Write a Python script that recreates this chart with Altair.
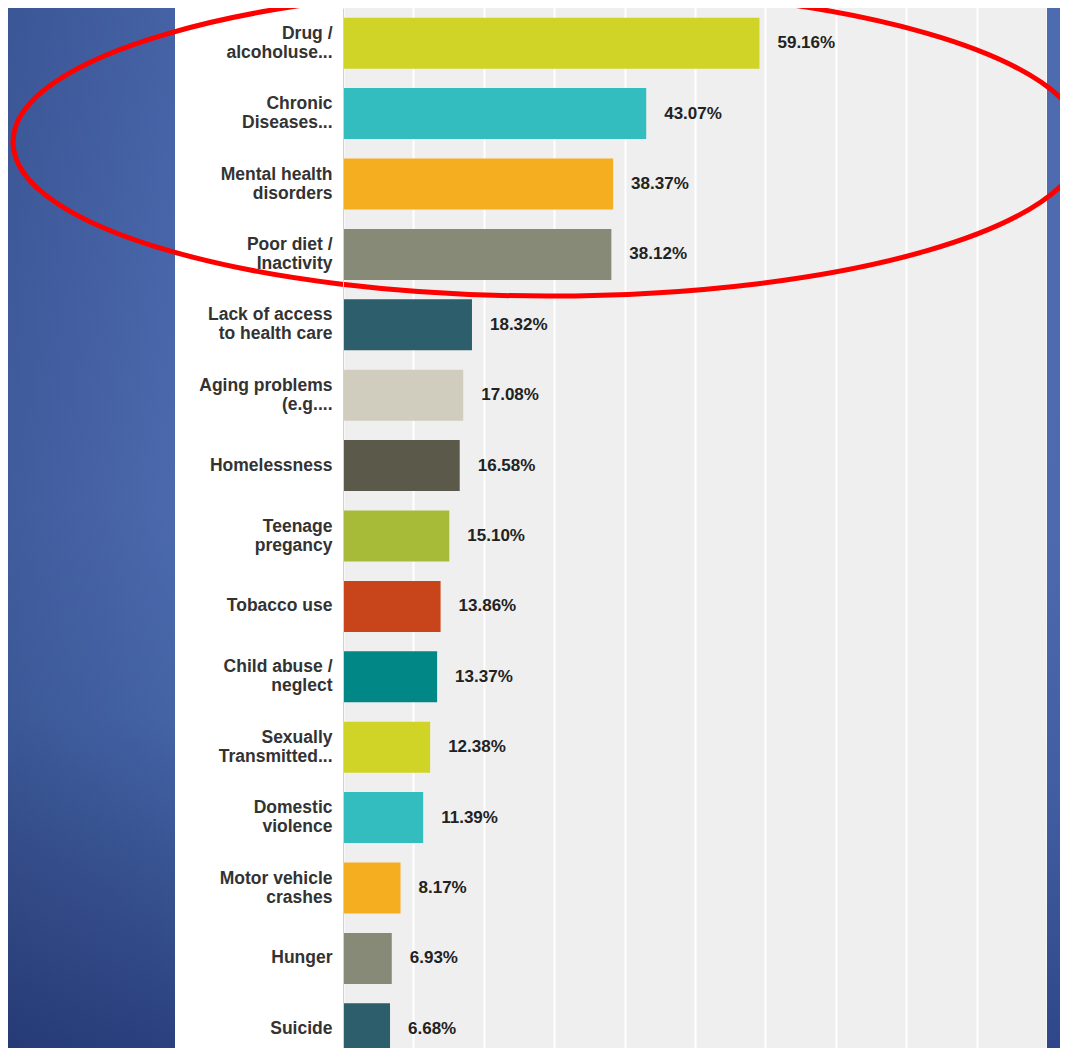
import altair as alt
import pandas as pd

# ---- data ----
categories = [
    "Drug /|alcoholuse...",
    "Chronic|Diseases...",
    "Mental health|disorders",
    "Poor diet /|Inactivity",
    "Lack of access|to health care",
    "Aging problems|(e.g....",
    "Homelessness",
    "Teenage|pregancy",
    "Tobacco use",
    "Child abuse /|neglect",
    "Sexually|Transmitted...",
    "Domestic|violence",
    "Motor vehicle|crashes",
    "Hunger",
    "Suicide",
]
values = [59.16, 43.07, 38.37, 38.12, 18.32, 17.08, 16.58, 15.10,
          13.86, 13.37, 12.38, 11.39, 8.17, 6.93, 6.68]
bar_colors = ["#cfd427", "#33bdbf", "#f5ae1f", "#888a78", "#2d5e6b",
              "#d0cdbf", "#5b5a4a", "#a8bb38", "#c8441a", "#008786",
              "#cfd427", "#33bdbf", "#f5ae1f", "#888a78", "#2d5e6b"]
x_grid_values = [0, 10, 20, 30, 40, 50, 60, 70, 80, 90, 100]

df = pd.DataFrame({"label": categories, "value": values})

PLOT_W = 704
PLOT_H = 1040
FONT = "Liberation Sans"

one = pd.DataFrame({"k": [0]})

# ---- decorative background pieces (outside the plot area) ----
left_bg = alt.Chart(one).mark_rect(
    fill=alt.LinearGradient(
        gradient="linear", x1=0, y1=0, x2=0, y2=1,
        stops=[alt.GradientStop(color="#4462a5", offset=0),
               alt.GradientStop(color="#4866aa", offset=0.25),
               alt.GradientStop(color="#4b69ad", offset=0.48),
               alt.GradientStop(color="#4464a6", offset=0.68),
               alt.GradientStop(color="#37518f", offset=0.85),
               alt.GradientStop(color="#2a417f", offset=1)])
).encode(x=alt.value(-335), x2=alt.value(-168), y=alt.value(0), y2=alt.value(PLOT_H))

left_shade = alt.Chart(one).mark_rect(
    fill=alt.LinearGradient(
        gradient="linear", x1=0, y1=0, x2=1, y2=0,
        stops=[alt.GradientStop(color="rgba(15,25,70,0.16)", offset=0),
               alt.GradientStop(color="rgba(15,25,70,0)", offset=1)])
).encode(x=alt.value(-335), x2=alt.value(-168), y=alt.value(0), y2=alt.value(PLOT_H))

right_bg = alt.Chart(one).mark_rect(
    fill=alt.LinearGradient(
        gradient="linear", x1=0, y1=0, x2=0, y2=1,
        stops=[alt.GradientStop(color="#4d6bb0", offset=0),
               alt.GradientStop(color="#4d6aae", offset=0.5),
               alt.GradientStop(color="#425ea2", offset=0.75),
               alt.GradientStop(color="#2f478a", offset=1)])
).encode(x=alt.value(PLOT_W), x2=alt.value(PLOT_W + 13), y=alt.value(0), y2=alt.value(PLOT_H))

panel = alt.Chart(one).mark_rect(fill="#ffffff").encode(
    x=alt.value(-168), x2=alt.value(0), y=alt.value(0), y2=alt.value(PLOT_H))

# ---- bars ----
y_enc = alt.Y(
    "label:N", sort=None, title=None,
    scale=alt.Scale(range=[0, 1056], paddingInner=0.275, paddingOuter=0.1375),
    axis=alt.Axis(zindex=1, ticks=False, domain=True, domainColor="#d2d2d2",
                  domainWidth=1, labelPadding=11, labelFont=FONT, labelFontSize=17.5,
                  labelFontWeight="bold", labelColor="#333333", labelLimit=300,
                  labelLineHeight=19, labelExpr="split(datum.label, '|')",
                  labelOffset=alt.condition("indexof(datum.value, '|') >= 0",
                                            alt.value(-9.5), alt.value(0)),
                  grid=False),
)
x_enc = alt.X(
    "value:Q", title=None,
    scale=alt.Scale(domain=[0, 100], nice=False, zero=True),
    axis=alt.Axis(values=x_grid_values, labels=False, ticks=False, domain=False,
                  grid=True, gridColor="#ffffff", gridWidth=2, gridOpacity=1),
)

bars = alt.Chart(df).mark_bar().encode(
    x=x_enc,
    y=y_enc,
    color=alt.Color("label:N", sort=None, legend=None,
                    scale=alt.Scale(domain=categories, range=bar_colors)),
)

texts = alt.Chart(df).transform_calculate(
    txt="format(datum.value, '.2f') + '%'"
).mark_text(
    align="left", baseline="middle", dx=18, font=FONT, fontSize=17,
    fontWeight="bold", color="#222222"
).encode(
    x=alt.X("value:Q"),
    y=alt.Y("label:N", sort=None),
    text="txt:N",
)

# ---- red hand-drawn ellipse annotation (custom symbol path) ----
A = 535
B = 154
k = 0.5523
ry = B / A
path = (
    f"M -1 0 C -1 {-ry*k:.4f} {-k:.4f} {-ry:.4f} 0 {-ry:.4f} "
    f"C {k:.4f} {-ry:.4f} 1 {-ry*k:.4f} 1 0 "
    f"C 1 {ry*k:.4f} {k:.4f} {ry:.4f} 0 {ry:.4f} "
    f"C {-k:.4f} {ry:.4f} -1 {ry*k:.4f} -1 0 Z"
)
ellipse = alt.Chart(one).mark_point(
    shape=path, filled=False, strokeWidth=5, color="#ff0000", opacity=1
).encode(
    x=alt.value(205), y=alt.value(134), size=alt.value((2 * A) ** 2)
)

chart = alt.layer(left_bg, left_shade, right_bg, panel, bars, texts, ellipse).properties(
    width=PLOT_W, height=PLOT_H,
    autosize=alt.AutoSizeParams(type="none"),
    padding={"left": 335, "top": 0, "right": 13, "bottom": 0},
    background="#4866a8",
).configure_view(fill="#efefef", stroke=None)

chart.save("out.html", embed_options={"renderer": "svg", "actions": False})
